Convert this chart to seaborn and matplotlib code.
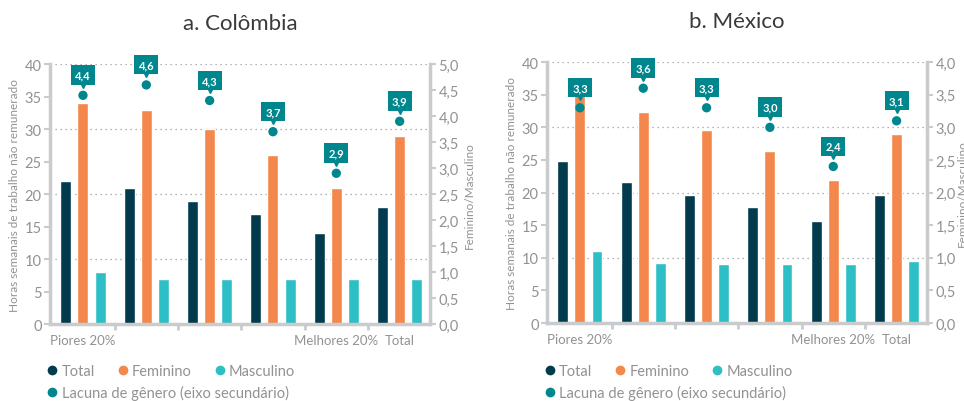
import numpy as np
import pandas as pd
import matplotlib
matplotlib.use('Agg')
import matplotlib.pyplot as plt
import matplotlib.transforms as mtransforms
from matplotlib.lines import Line2D
from matplotlib.ticker import FuncFormatter, MultipleLocator
import seaborn as sns

sns.set_theme(style='white')
plt.rcParams['font.family'] = ['Lato', 'DejaVu Sans']

# Data
groups = ['Piores 20%', 'Q2', 'Q3', 'Q4', 'Melhores 20%', 'Total']
group_labels = ['Piores 20%', '', '', '', 'Melhores 20%', 'Total']
series = ['Total', 'Feminino', 'Masculino']

col_total = [22, 21, 19, 17, 14, 18]
col_fem = [34, 33, 30, 26, 21, 29]
col_masc = [8, 7, 7, 7, 7, 7]
col_gap = [4.4, 4.6, 4.3, 3.7, 2.9, 3.9]

mex_total = [24.9, 21.6, 19.6, 17.8, 15.6, 19.6]
mex_fem = [35.5, 32.4, 29.6, 26.4, 21.9, 29.0]
mex_masc = [11.0, 9.2, 9.0, 9.0, 9.0, 9.5]
mex_gap = [3.3, 3.6, 3.3, 3.0, 2.4, 3.1]

colors = ['#023B4E', '#F4874B', '#2EBFC6']
gap_color = '#00878E'
spine_color = '#C9CBCC'
text_gray = '#929292'


def to_long(total, fem, masc):
    rows = []
    for name, vals in zip(series, [total, fem, masc]):
        for g, v in zip(groups, vals):
            rows.append({'grupo': g, 'serie': name, 'horas': v})
    return pd.DataFrame(rows)


def comma(v, pos):
    return f'{v:.1f}'.replace('.', ',')


def draw_panel(ax, df, gap, title, rmax, rstep, rpad):
    sns.barplot(data=df, x='grupo', y='horas', hue='serie', order=groups,
                hue_order=series, palette=colors, saturation=1,
                width=0.81, gap=0.36, legend=False, ax=ax, zorder=2)
    ax.set_xlim(-0.52, 5.48)
    ax.set_ylim(0, 40)
    ax.yaxis.set_major_locator(MultipleLocator(5))
    for y in [10, 20, 30, 40]:
        ax.axhline(y, color='#9A9A9A', lw=0.9, ls=(0, (1, 3)), zorder=0)
    ax.set_xticks(range(len(groups)))
    ax.set_xticklabels(group_labels, fontsize=9.5, color=text_gray)
    ax.set_xticks(np.arange(len(groups) - 1) + 0.5, minor=True)
    ax.tick_params(axis='x', which='major', length=0, pad=7)
    ax.tick_params(axis='x', which='minor', length=4, width=2, color=spine_color,
                   direction='out', bottom=True)
    ax.tick_params(axis='y', length=4, width=1.5, color=spine_color,
                   labelsize=10.5, labelcolor=text_gray, left=True, pad=2)
    ax.set_xlabel('')
    ax.set_ylabel('Horas semanais de trabalho não remunerado', fontsize=8.5,
                  color=text_gray, labelpad=3)
    for s in ['top', 'right']:
        ax.spines[s].set_visible(False)
    for s in ['left', 'bottom']:
        ax.spines[s].set_color(spine_color)
        ax.spines[s].set_linewidth(2.5)
    ax.set_title(title, fontsize=16, color='#3A3A3A', pad=25)

    ax2 = ax.twinx()
    ax2.set_ylim(0, rmax)
    ax2.yaxis.set_major_locator(MultipleLocator(rstep))
    ax2.yaxis.set_major_formatter(FuncFormatter(comma))
    ax2.tick_params(axis='y', length=4, width=1.5, color=spine_color,
                    labelsize=10.5, labelcolor=text_gray, right=True, pad=2)
    for s in ['top', 'left', 'bottom']:
        ax2.spines[s].set_visible(False)
    ax2.spines['right'].set_color(spine_color)
    ax2.spines['right'].set_linewidth(2.5)
    ax2.set_ylabel('Feminino/Masculino', fontsize=8.5, color=text_gray,
                   labelpad=rpad)
    ax2.grid(False)

    xs = np.arange(len(gap))
    sns.scatterplot(x=xs, y=gap, color=gap_color, s=45, edgecolor='none',
                    ax=ax2, zorder=3, legend=False)
    tri = mtransforms.offset_copy(ax2.transData, fig=ax2.figure, x=0, y=7.5,
                                  units='points')
    for x, g in zip(xs, gap):
        ax2.plot(x, g, marker='v', color=gap_color, markersize=5,
                 transform=tri, zorder=4, clip_on=False)
        ax2.annotate(f'{g:.1f}'.replace('.', ','), xy=(x, g), xytext=(0, 14.5),
                     textcoords='offset points', ha='center', va='center',
                     fontsize=8, fontweight='bold', color='white', zorder=5,
                     annotation_clip=False,
                     bbox=dict(boxstyle='square,pad=0.38', fc=gap_color,
                               ec='none'))
    return ax2


fig = plt.figure(figsize=(9.64, 4.02), dpi=100)
ax_col = fig.add_axes([0.0519, 0.1915, 0.3942, 0.6465])
ax_mex = fig.add_axes([0.5674, 0.194, 0.3942, 0.649])

draw_panel(ax_col, to_long(col_total, col_fem, col_masc), col_gap,
           'a. Colômbia', 5.0, 0.5, 4)
draw_panel(ax_mex, to_long(mex_total, mex_fem, mex_masc), mex_gap,
           'b. México', 4.0, 0.5, 0.5)


def handle(c):
    return Line2D([], [], ls='none', marker='o', markersize=7,
                  markerfacecolor=c, markeredgecolor='none')


for x0 in [0.048, 0.564]:
    leg1 = fig.legend([handle(c) for c in colors], series, loc='center left',
                      bbox_to_anchor=(x0, 0.074), ncol=3, frameon=False,
                      fontsize=10.5, labelcolor=text_gray, handlelength=0.8,
                      handletextpad=0.25, columnspacing=1.5, borderpad=0,
                      borderaxespad=0)
    leg2 = fig.legend([handle(gap_color)], ['Lacuna de gênero (eixo secundário)'],
                      loc='center left', bbox_to_anchor=(x0, 0.022),
                      frameon=False, fontsize=10.5, labelcolor=text_gray,
                      handlelength=0.8, handletextpad=0.25, borderpad=0,
                      borderaxespad=0)

fig.savefig('out.png', dpi=100)
